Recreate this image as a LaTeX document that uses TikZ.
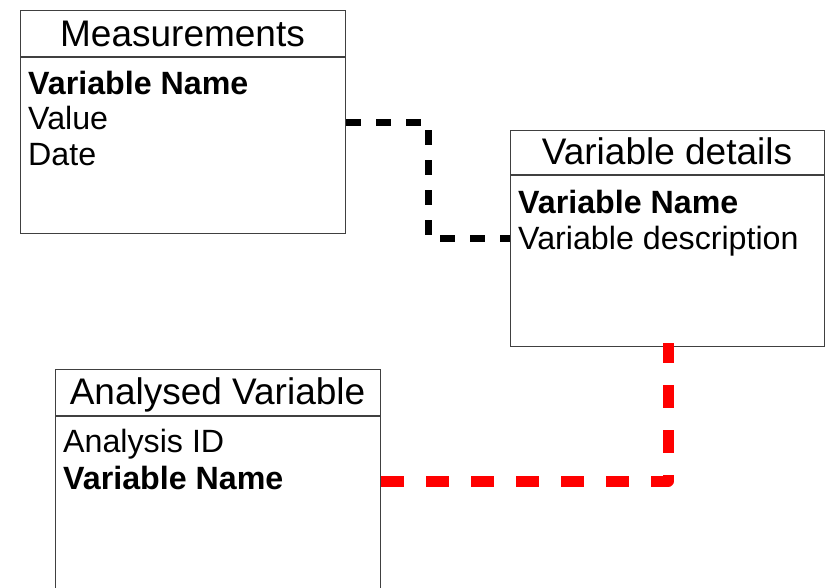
\documentclass[tikz,border=0pt]{standalone}
\usepackage{fontspec}
\setmainfont{Liberation Sans}
\begin{document}
\begin{tikzpicture}[x=1pt,y=-1pt,
  tbox/.style={draw=black!75,line width=1.2pt,rectangle,inner sep=0pt,anchor=north west},
  hline/.style={draw=black!75,line width=1.2pt},
  ttl/.style={anchor=base,inner sep=0pt,font=\fontsize{37}{40}\selectfont},
  row/.style={anchor=base west,inner sep=0pt,font=\fontsize{32.2}{36}\selectfont},
  brow/.style={row,font=\fontsize{32.2}{36}\selectfont\bfseries},
  blackconn/.style={draw=black,line width=7pt,dash pattern=on 15pt off 15pt},
  redconn/.style={draw=red,line width=11pt,dash pattern=on 23pt off 22pt,line join=round}]
\useasboundingbox (0,0) rectangle (827,587);
\clip (0,0) rectangle (827,587);
% Measurements
\node[tbox,minimum width=325pt,minimum height=223pt] (meas) at (20,10) {};
\draw[hline] ([yshift=-47pt]meas.north west) -- ([yshift=-47pt]meas.north east);
\node[ttl] (meast) at (182.5,46) {Measurements};
\node[brow] (m1) at (28,94) {Variable Name};
\node[row] (m2) at (28,129.5) {Value};
\node[row] (m3) at (28,165) {Date};
% Variable details
\node[tbox,minimum width=314pt,minimum height=216pt] (vd) at (510,130) {};
\draw[hline] ([yshift=-45pt]vd.north west) -- ([yshift=-45pt]vd.north east);
\node[ttl] (vdt) at (667,164) {Variable details};
\node[brow] (v1) at (518,213) {Variable Name};
\node[row] (v2) at (518,249) {Variable description};
% Analysed Variable
\node[tbox,minimum width=325pt,minimum height=260pt] (av) at (55,369) {};
\draw[hline] ([yshift=-47pt]av.north west) -- ([yshift=-47pt]av.north east);
\node[ttl] (avt) at (217.5,404) {Analysed Variable};
\node[row] (a1) at (63,452.5) {Analysis ID};
\node[brow] (a2) at (63,489) {Variable Name};
% connectors
\coordinate (rt) at (668,343);
\draw[blackconn] (meas.east |- 0,122) -- (428,122) -- (428,238) -- (vd.west |- 0,238);
\draw[redconn] (av.east |- 0,481) -- (668,481) -- (rt);
\end{tikzpicture}
\end{document}
